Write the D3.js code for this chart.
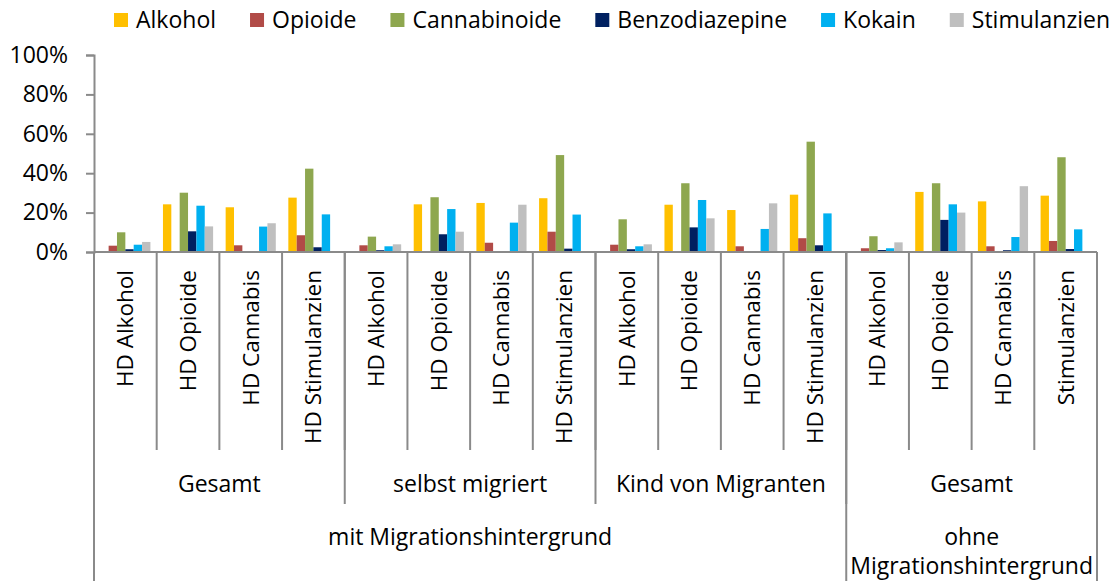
<!DOCTYPE html>
<html>
<head>
<meta charset="utf-8">
<script src="https://cdn.jsdelivr.net/npm/d3@7"></script>
<style>
  body { margin: 0; background: #fff; }
  text { font-family: "Open Sans", "Noto Sans", sans-serif; fill: #000; }
</style>
</head>
<body>
<div id="chart"></div>
<script>
// series (legend) and colours
var seriesNames = ["Alkohol", "Opioide", "Cannabinoide", "Benzodiazepine", "Kokain", "Stimulanzien"];
var seriesColors = ["#FFC000", "#B14B47", "#8EA74F", "#002060", "#00B0F0", "#BFBFBF"];

// x categories, three levels
var catLabels = ["HD Alkohol", "HD Opioide", "HD Cannabis", "HD Stimulanzien",
                 "HD Alkohol", "HD Opioide", "HD Cannabis", "HD Stimulanzien",
                 "HD Alkohol", "HD Opioide", "HD Cannabis", "HD Stimulanzien",
                 "HD Alkohol", "HD Opioide", "HD Cannabis", "Stimulanzien"];
var subGroupLabels = ["Gesamt", "selbst migriert", "Kind von Migranten", "Gesamt"];
var subGroupSizes = [4, 4, 4, 4];
var topGroupLabels = [["mit Migrationshintergrund"], ["ohne", "Migrationshintergrund"]];
var topGroupSizes = [12, 4];

// values in percent, one array per series
var alkohol        = [0, 24.2, 22.7, 27.6,  0, 24.2, 24.9, 27.3,  0, 24.0, 21.3, 29.1,  0, 30.5, 25.7, 28.6];
var opioide        = [3.2, 0, 3.4, 8.5,     3.4, 0, 4.7, 10.3,    3.7, 0, 2.9, 7.0,     1.9, 0, 2.9, 5.6];
var cannabinoide   = [10.0, 30.1, 0, 42.3,  7.8, 27.8, 0, 49.2,   16.6, 34.9, 0, 56.0,  8.0, 34.9, 0, 48.1];
var benzodiazepine = [1.4, 10.5, 0.3, 2.4,  0.9, 9.0, 0.3, 1.7,   1.4, 12.5, 0.3, 3.4,  1.0, 16.3, 0.9, 1.5];
var kokain         = [3.7, 23.5, 12.9, 19.1, 2.9, 21.8, 14.9, 19.0, 2.9, 26.4, 11.7, 19.6, 1.9, 24.2, 7.6, 11.5];
var stimulanzien   = [5.1, 13.0, 14.6, 0,   3.9, 10.3, 24.0, 0,   3.9, 17.1, 24.7, 0,   4.9, 20.0, 33.4, 0];

var yTicks = [0, 0.2, 0.4, 0.6, 0.8, 1.0];

var allSeries = [alkohol, opioide, cannabinoide, benzodiazepine, kokain, stimulanzien];

var width = 1120, height = 581;
var plotLeft = 94, plotRight = 1097, plotTop = 55, plotBase = 252;
var axisColor = "#8a8a8a";

var svg = d3.select("#chart").append("svg")
    .attr("width", width)
    .attr("height", height);

var x0 = d3.scaleBand()
    .domain(d3.range(catLabels.length))
    .range([plotLeft, plotRight])
    .padding(0);

var x1 = d3.scaleBand()
    .domain(d3.range(seriesNames.length))
    .range([x0.bandwidth() * 0.1, x0.bandwidth() * 0.9])
    .padding(0);

var y = d3.scaleLinear().domain([0, 1]).range([plotBase, plotTop]);

// y axis
var yAxis = svg.append("g")
    .attr("transform", "translate(" + plotLeft + ",0)")
    .call(d3.axisLeft(y).tickValues(yTicks).tickFormat(d3.format(".0%")).tickSize(8).tickPadding(18));
yAxis.select(".domain").attr("stroke", axisColor).attr("stroke-width", 2);
yAxis.selectAll(".tick line").attr("stroke", axisColor).attr("stroke-width", 2);
yAxis.selectAll(".tick text").style("font-size", "23px").attr("fill", "#000")
    .style("font-family", "'Open Sans', sans-serif");

// bars
var rows = catLabels.map(function(c, i) {
    return allSeries.map(function(s, j) { return { cat: i, ser: j, v: s[i] / 100 }; });
});

svg.append("g").selectAll("g")
    .data(rows)
    .enter().append("g")
    .attr("transform", function(d, i) { return "translate(" + x0(i) + ",0)"; })
    .selectAll("rect")
    .data(function(d) { return d; })
    .enter().append("rect")
    .attr("x", function(d) { return x1(d.ser); })
    .attr("width", x1.bandwidth())
    .attr("y", function(d) { return y(d.v); })
    .attr("height", function(d) { return plotBase - y(d.v); })
    .attr("fill", function(d) { return seriesColors[d.ser]; });

// x axis base line
svg.append("line")
    .attr("x1", plotLeft).attr("x2", plotRight)
    .attr("y1", plotBase).attr("y2", plotBase)
    .attr("stroke", axisColor).attr("stroke-width", 2);

// separators: category level, sub group level, top group level
var catEnd = 450, subEnd = 504, topEnd = 581;
var seps = [];
for (var i = 0; i <= catLabels.length; i++) seps.push({ i: i, end: catEnd });
var acc = 0;
subGroupSizes.forEach(function(n) { acc += n; seps.push({ i: acc, end: subEnd }); });
seps.push({ i: 0, end: topEnd });
acc = 0;
topGroupSizes.forEach(function(n) { acc += n; seps.push({ i: acc, end: topEnd }); });

function edge(i) { return i >= catLabels.length ? plotRight : x0(i); }

svg.append("g").selectAll("line")
    .data(seps)
    .enter().append("line")
    .attr("x1", function(d) { return edge(d.i); })
    .attr("x2", function(d) { return edge(d.i); })
    .attr("y1", plotBase)
    .attr("y2", function(d) { return d.end; })
    .attr("stroke", axisColor)
    .attr("stroke-width", 2);

// category labels (rotated)
svg.append("g").selectAll("text")
    .data(catLabels)
    .enter().append("text")
    .attr("transform", function(d, i) {
        return "translate(" + (x0(i) + x0.bandwidth() / 2) + ",270) rotate(-90)";
    })
    .attr("text-anchor", "end")
    .attr("dy", "0.35em")
    .style("font-size", "22.5px")
    .text(function(d) { return d; });

// sub group labels
acc = 0;
subGroupLabels.forEach(function(lbl, k) {
    var a = edge(acc), b = edge(acc + subGroupSizes[k]);
    acc += subGroupSizes[k];
    svg.append("text")
        .attr("x", (a + b) / 2).attr("y", 492)
        .attr("text-anchor", "middle")
        .style("font-size", "23px")
        .text(lbl);
});

// top group labels
acc = 0;
topGroupLabels.forEach(function(lines, k) {
    var a = edge(acc), b = edge(acc + topGroupSizes[k]);
    acc += topGroupSizes[k];
    lines.forEach(function(line, j) {
        svg.append("text")
            .attr("x", (a + b) / 2).attr("y", 545 + j * 29)
            .attr("text-anchor", "middle")
            .style("font-size", "23px")
            .text(line);
    });
});

// legend
var legend = svg.append("g");
var lx = 114;
seriesNames.forEach(function(name, i) {
    legend.append("rect")
        .attr("x", lx).attr("y", 13)
        .attr("width", 14).attr("height", 14)
        .attr("fill", seriesColors[i]);
    var t = legend.append("text")
        .attr("x", lx + 22).attr("y", 28)
        .style("font-size", "23px")
        .text(name);
    lx += 22 + t.node().getComputedTextLength() + 34;
});
</script>
</body>
</html>
